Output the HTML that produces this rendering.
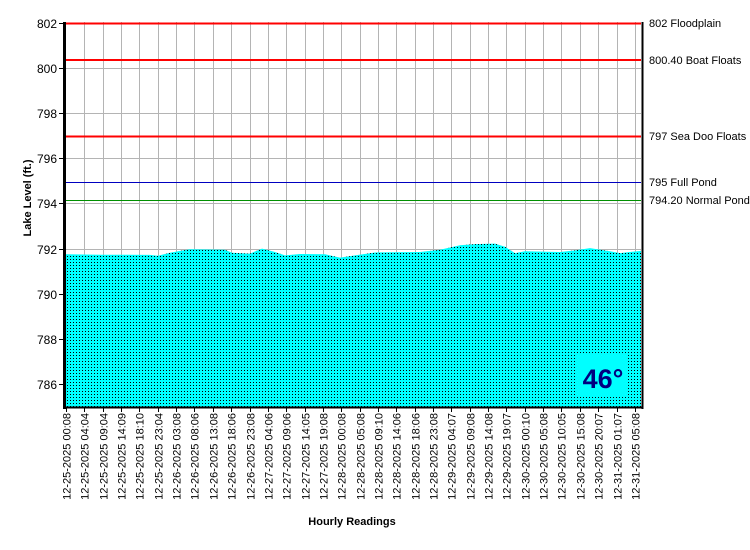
<!DOCTYPE html>
<html><head><style>body{margin:0;background:#fff}svg{display:block}</style></head><body>
<svg width="750" height="550" xmlns="http://www.w3.org/2000/svg" font-family="Liberation Sans, sans-serif">
<defs>
<pattern id="d" width="3" height="3" patternUnits="userSpaceOnUse" x="66" y="0">
<rect width="3" height="3" fill="#00ffff"/><rect x="1" y="1" width="1" height="1" fill="#000"/>
</pattern>
</defs>
<rect width="750" height="550" fill="#fff"/>
<g stroke="#b4b4b4" stroke-width="1">
<line x1="66" x2="641" y1="68.5" y2="68.5"/>
<line x1="66" x2="641" y1="113.5" y2="113.5"/>
<line x1="66" x2="641" y1="158.5" y2="158.5"/>
<line x1="66" x2="641" y1="203.5" y2="203.5"/>
<line x1="66" x2="641" y1="249.5" y2="249.5"/>
<line x1="66" x2="641" y1="294.5" y2="294.5"/>
<line x1="66" x2="641" y1="339.5" y2="339.5"/>
<line x1="66" x2="641" y1="384.5" y2="384.5"/>
<line y1="22" y2="407" x1="84.5" x2="84.5"/><line y1="22" y2="407" x1="103.5" x2="103.5"/><line y1="22" y2="407" x1="121.5" x2="121.5"/><line y1="22" y2="407" x1="139.5" x2="139.5"/><line y1="22" y2="407" x1="158.5" x2="158.5"/><line y1="22" y2="407" x1="176.5" x2="176.5"/><line y1="22" y2="407" x1="194.5" x2="194.5"/><line y1="22" y2="407" x1="213.5" x2="213.5"/><line y1="22" y2="407" x1="231.5" x2="231.5"/><line y1="22" y2="407" x1="250.5" x2="250.5"/><line y1="22" y2="407" x1="268.5" x2="268.5"/><line y1="22" y2="407" x1="286.5" x2="286.5"/><line y1="22" y2="407" x1="305.5" x2="305.5"/><line y1="22" y2="407" x1="323.5" x2="323.5"/><line y1="22" y2="407" x1="341.5" x2="341.5"/><line y1="22" y2="407" x1="360.5" x2="360.5"/><line y1="22" y2="407" x1="378.5" x2="378.5"/><line y1="22" y2="407" x1="396.5" x2="396.5"/><line y1="22" y2="407" x1="415.5" x2="415.5"/><line y1="22" y2="407" x1="433.5" x2="433.5"/><line y1="22" y2="407" x1="451.5" x2="451.5"/><line y1="22" y2="407" x1="470.5" x2="470.5"/><line y1="22" y2="407" x1="488.5" x2="488.5"/><line y1="22" y2="407" x1="506.5" x2="506.5"/><line y1="22" y2="407" x1="525.5" x2="525.5"/><line y1="22" y2="407" x1="543.5" x2="543.5"/><line y1="22" y2="407" x1="561.5" x2="561.5"/><line y1="22" y2="407" x1="580.5" x2="580.5"/><line y1="22" y2="407" x1="598.5" x2="598.5"/><line y1="22" y2="407" x1="617.5" x2="617.5"/><line y1="22" y2="407" x1="635.5" x2="635.5"/>
</g>
<polygon fill="url(#d)" points="66,407 66,254.2 100,254.7 150,254.9 158,255.8 170,252.7 180,250.9 190,249.3 225,249.8 232,252.7 250,253.6 262,248.6 275,252 285,255.4 300,254 325,254.2 340,257.6 355,255.4 375,252.5 420,252 440,249.8 460,245.2 475,244.1 495,243.6 505,246.8 515,253.1 525,251.3 560,252 575,250.4 590,248.1 610,251.3 620,253.1 632,251.8 641,250.9 641,407"/>
<rect x="577" y="353" width="51" height="44" fill="#00ffff"/>
<text x="603" y="388" font-size="27" font-weight="bold" fill="#000080" text-anchor="middle">46°</text>
<line x1="66" y1="23.5" x2="641" y2="23.5" stroke="#ff0000" stroke-width="2"/>
<line x1="66" y1="60" x2="641" y2="60" stroke="#ff0000" stroke-width="2"/>
<line x1="66" y1="136.5" x2="641" y2="136.5" stroke="#ff0000" stroke-width="2"/>
<line x1="66" y1="182.5" x2="641" y2="182.5" stroke="#0000c0" stroke-width="1"/>
<line x1="66" y1="200.5" x2="641" y2="200.5" stroke="#009000" stroke-width="1"/>
<line x1="64.5" y1="22" x2="64.5" y2="409" stroke="#000" stroke-width="3"/>
<line x1="64" y1="407.5" x2="643" y2="407.5" stroke="#000" stroke-width="2"/>
<line x1="642.5" y1="22" x2="642.5" y2="409" stroke="#000" stroke-width="2"/>
<g stroke="#000" stroke-width="1">
<line x1="59" x2="63" y1="23.5" y2="23.5"/><line x1="59" x2="63" y1="68.5" y2="68.5"/><line x1="59" x2="63" y1="113.5" y2="113.5"/><line x1="59" x2="63" y1="158.5" y2="158.5"/><line x1="59" x2="63" y1="203.5" y2="203.5"/><line x1="59" x2="63" y1="249.5" y2="249.5"/><line x1="59" x2="63" y1="294.5" y2="294.5"/><line x1="59" x2="63" y1="339.5" y2="339.5"/><line x1="59" x2="63" y1="384.5" y2="384.5"/>
</g>
<g font-size="12" fill="#000" text-anchor="end">
<text x="57" y="28">802</text><text x="57" y="73">800</text><text x="57" y="118">798</text><text x="57" y="163">796</text><text x="57" y="208">794</text><text x="57" y="254">792</text><text x="57" y="299">790</text><text x="57" y="344">788</text><text x="57" y="389">786</text>
</g>
<g font-size="11" fill="#000">
<text x="649" y="27">802 Floodplain</text>
<text x="649" y="64">800.40 Boat Floats</text>
<text x="649" y="140">797 Sea Doo Floats</text>
<text x="649" y="186">795 Full Pond</text>
<text x="649" y="204">794.20 Normal Pond</text>
</g>
<g font-size="11" fill="#000" text-anchor="end">
<text transform="translate(70.5,413) rotate(-90)">12-25-2025 00:08</text>
<text transform="translate(88.5,413) rotate(-90)">12-25-2025 04:04</text>
<text transform="translate(107.5,413) rotate(-90)">12-25-2025 09:04</text>
<text transform="translate(125.5,413) rotate(-90)">12-25-2025 14:09</text>
<text transform="translate(143.5,413) rotate(-90)">12-25-2025 18:10</text>
<text transform="translate(162.5,413) rotate(-90)">12-25-2025 23:04</text>
<text transform="translate(180.5,413) rotate(-90)">12-26-2025 03:08</text>
<text transform="translate(198.5,413) rotate(-90)">12-26-2025 08:06</text>
<text transform="translate(217.5,413) rotate(-90)">12-26-2025 13:08</text>
<text transform="translate(235.5,413) rotate(-90)">12-26-2025 18:06</text>
<text transform="translate(254.5,413) rotate(-90)">12-26-2025 23:08</text>
<text transform="translate(272.5,413) rotate(-90)">12-27-2025 04:06</text>
<text transform="translate(290.5,413) rotate(-90)">12-27-2025 09:06</text>
<text transform="translate(309.5,413) rotate(-90)">12-27-2025 14:05</text>
<text transform="translate(327.5,413) rotate(-90)">12-27-2025 19:08</text>
<text transform="translate(345.5,413) rotate(-90)">12-28-2025 00:08</text>
<text transform="translate(364.5,413) rotate(-90)">12-28-2025 05:08</text>
<text transform="translate(382.5,413) rotate(-90)">12-28-2025 09:10</text>
<text transform="translate(400.5,413) rotate(-90)">12-28-2025 14:06</text>
<text transform="translate(419.5,413) rotate(-90)">12-28-2025 18:06</text>
<text transform="translate(437.5,413) rotate(-90)">12-28-2025 23:08</text>
<text transform="translate(455.5,413) rotate(-90)">12-29-2025 04:07</text>
<text transform="translate(474.5,413) rotate(-90)">12-29-2025 09:08</text>
<text transform="translate(492.5,413) rotate(-90)">12-29-2025 14:08</text>
<text transform="translate(510.5,413) rotate(-90)">12-29-2025 19:07</text>
<text transform="translate(529.5,413) rotate(-90)">12-30-2025 00:10</text>
<text transform="translate(547.5,413) rotate(-90)">12-30-2025 05:08</text>
<text transform="translate(565.5,413) rotate(-90)">12-30-2025 10:05</text>
<text transform="translate(584.5,413) rotate(-90)">12-30-2025 15:08</text>
<text transform="translate(602.5,413) rotate(-90)">12-30-2025 20:07</text>
<text transform="translate(621.5,413) rotate(-90)">12-31-2025 01:07</text>
<text transform="translate(639.5,413) rotate(-90)">12-31-2025 05:08</text>
</g>
<g stroke="#000" stroke-width="1">
<line x1="66.5" x2="66.5" y1="408" y2="412"/><line x1="84.5" x2="84.5" y1="408" y2="412"/><line x1="103.5" x2="103.5" y1="408" y2="412"/><line x1="121.5" x2="121.5" y1="408" y2="412"/><line x1="139.5" x2="139.5" y1="408" y2="412"/><line x1="158.5" x2="158.5" y1="408" y2="412"/><line x1="176.5" x2="176.5" y1="408" y2="412"/><line x1="194.5" x2="194.5" y1="408" y2="412"/><line x1="213.5" x2="213.5" y1="408" y2="412"/><line x1="231.5" x2="231.5" y1="408" y2="412"/><line x1="250.5" x2="250.5" y1="408" y2="412"/><line x1="268.5" x2="268.5" y1="408" y2="412"/><line x1="286.5" x2="286.5" y1="408" y2="412"/><line x1="305.5" x2="305.5" y1="408" y2="412"/><line x1="323.5" x2="323.5" y1="408" y2="412"/><line x1="341.5" x2="341.5" y1="408" y2="412"/><line x1="360.5" x2="360.5" y1="408" y2="412"/><line x1="378.5" x2="378.5" y1="408" y2="412"/><line x1="396.5" x2="396.5" y1="408" y2="412"/><line x1="415.5" x2="415.5" y1="408" y2="412"/><line x1="433.5" x2="433.5" y1="408" y2="412"/><line x1="451.5" x2="451.5" y1="408" y2="412"/><line x1="470.5" x2="470.5" y1="408" y2="412"/><line x1="488.5" x2="488.5" y1="408" y2="412"/><line x1="506.5" x2="506.5" y1="408" y2="412"/><line x1="525.5" x2="525.5" y1="408" y2="412"/><line x1="543.5" x2="543.5" y1="408" y2="412"/><line x1="561.5" x2="561.5" y1="408" y2="412"/><line x1="580.5" x2="580.5" y1="408" y2="412"/><line x1="598.5" x2="598.5" y1="408" y2="412"/><line x1="617.5" x2="617.5" y1="408" y2="412"/><line x1="635.5" x2="635.5" y1="408" y2="412"/>
</g>
<text transform="translate(31,198) rotate(-90)" font-size="11" font-weight="bold" text-anchor="middle">Lake Level (ft.)</text>
<text x="352" y="525" font-size="11" font-weight="bold" text-anchor="middle">Hourly Readings</text>
</svg>
</body></html>
